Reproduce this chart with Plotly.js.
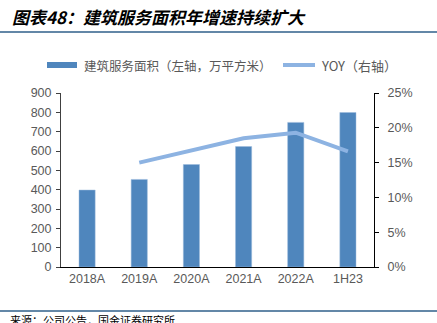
<!DOCTYPE html>
<html><head><meta charset="utf-8">
<script src="https://cdn.plot.ly/plotly-3.0.1.min.js"></script>
<style>html,body{margin:0;padding:0;background:#fff}#c{width:437px;height:323px}</style>
</head><body><div id="c"></div>
<script>
const categories = ['2018A','2019A','2020A','2021A','2022A','1H23'];
const areaValues = [398, 453, 530, 623, 748, 799];
const yoyCategories = ['2019A','2020A','2021A','2022A','1H23'];
const yoyValues = [0.150, 0.168, 0.185, 0.193, 0.166];
const leftTicks = [0,100,200,300,400,500,600,700,800,900];
const rightTicks = [0,0.05,0.10,0.15,0.20,0.25];

const L=61, R=374, T=93, B=267;
const px = x => (x-L)/(R-L);
const py = y => (B-y)/(B-T);
const cjk = '"Noto Sans CJK SC", "Liberation Sans", sans-serif';
const num = '"Liberation Sans", Arial, sans-serif';
const barColor = '#4F86BD';
const lineColor = '#8DB3E2';

const traces = [
  {type:'bar', x:categories, y:areaValues, marker:{color:barColor, line:{color:'#9DBBDD', width:0.5}}, width:0.31, yaxis:'y', showlegend:false, hoverinfo:'skip'},
  {type:'scatter', mode:'lines', x:yoyCategories, y:yoyValues, line:{color:lineColor, width:4}, yaxis:'y2', showlegend:false, hoverinfo:'skip'}
];

const layout = {
  width:437, height:323,
  margin:{l:L, r:437-R, t:T, b:323-B, pad:0},
  paper_bgcolor:'#fff', plot_bgcolor:'#fff',
  showlegend:false,
  title:{text:'图表48：建筑服务面积年增速持续扩大', x:12/437, xanchor:'left', y:1-18/323, yanchor:'middle', xref:'container', yref:'container',
    font:{family:cjk, size:17, color:'#000', weight:'bold', style:'italic'}},
  xaxis:{type:'category', showline:true, linecolor:'#000', linewidth:1, ticks:'', showgrid:false, zeroline:false,
    tickfont:{family:num, size:12.5, color:'#595959'}, fixedrange:true},
  yaxis:{range:[0,900], tickvals:leftTicks, showline:true, linecolor:'#404040', linewidth:1, ticks:'outside', ticklen:4, tickcolor:'#404040',
    showgrid:false, zeroline:false, tickfont:{family:num, size:12.5, color:'#595959'}, ticklabelstandoff:2},
  yaxis2:{range:[0,0.25], tickvals:rightTicks, tickformat:'.0%', overlaying:'y', side:'right', showline:true, linecolor:'#000', linewidth:1,
    ticks:'outside', ticklen:4, tickcolor:'#000', showgrid:false, zeroline:false, tickfont:{family:num, size:12.5, color:'#595959'}, ticklabelstandoff:6},
  shapes:[
    {type:'line', xref:'paper', yref:'paper', x0:px(0), x1:px(437), y0:py(32), y1:py(32), line:{color:'#2F5F8A', width:1.5}},
    {type:'line', xref:'paper', yref:'paper', x0:px(0), x1:px(437), y0:py(311), y1:py(311), line:{color:'#2F5F8A', width:1.5}},
    {type:'rect', xref:'paper', yref:'paper', x0:px(47), x1:px(77), y0:py(68), y1:py(62), fillcolor:barColor, line:{width:0}},
    {type:'line', xref:'paper', yref:'paper', x0:px(283), x1:px(315), y0:py(65), y1:py(65), line:{color:lineColor, width:4}}
  ],
  annotations:[
    {xref:'paper', yref:'paper', x:px(82), y:py(65), xanchor:'left', yanchor:'middle', showarrow:false,
      text:'建筑服务面积（左轴，万平方米）', font:{family:cjk, size:12.5, color:'#595959'}},
    {xref:'paper', yref:'paper', x:px(319), y:py(65), xanchor:'left', yanchor:'middle', showarrow:false,
      text:'YOY（右轴）', font:{family:cjk, size:13, color:'#595959'}},
    {xref:'paper', yref:'paper', x:px(8), y:py(320), xanchor:'left', yanchor:'middle', showarrow:false,
      text:'来源：公司公告，国金证券研究所', font:{family:cjk, size:11, color:'#000'}}
  ]
};
Plotly.newPlot('c', traces, layout, {staticPlot:true, displayModeBar:false});
</script></body></html>
